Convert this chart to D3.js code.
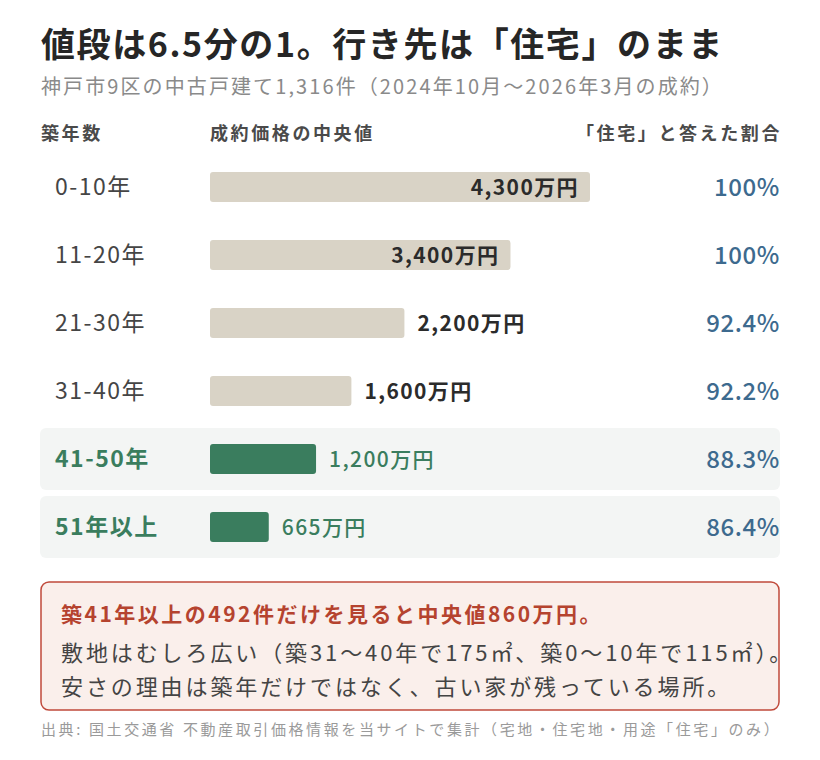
<!DOCTYPE html>
<html>
<head>
<meta charset="utf-8">
<script src="https://cdn.jsdelivr.net/npm/d3@7"></script>
<style>
  body { margin: 0; background: #fff; }
  svg text { font-family: "Noto Sans CJK JP", "Noto Sans", sans-serif; }
</style>
</head>
<body>
<svg id="chart"></svg>
<script>
// data
let ageLabels = ['0-10年', '11-20年', '21-30年', '31-40年', '41-50年', '51年以上']
let medianPrices = [4300, 3400, 2200, 1600, 1200, 665]   // 万円
let housingShare = [100, 100, 92.4, 92.2, 88.3, 86.4]    // %
let highlighted = [false, false, false, false, true, true]

let width = 820
let height = 760
let left = 40
let right = 780

let svg = d3.select('#chart')
  .attr('width', width)
  .attr('height', height)

let rows = ageLabels.map((label, i) => ({
  label: label,
  price: medianPrices[i],
  share: housingShare[i],
  hi: highlighted[i],
  i: i
}))

let xScale = d3.scaleLinear()
  .domain([0, d3.max(medianPrices)])
  .range([210, 590])

let yScale = d3.scaleBand()
  .domain(d3.range(rows.length))
  .range([153, 561])

let priceFmt = (v) => d3.format(',')(v) + '万円'
let shareFmt = (v) => (v === 100 ? '100' : d3.format('.1f')(v)) + '%'

// title block
svg.append('text')
  .attr('x', left + 1).attr('y', 57)
  .attr('font-size', 34).attr('font-weight', 700).attr('fill', '#262626')
  .attr('letter-spacing', 1.6)
  .text('値段は6.5分の1。行き先は「住宅」のまま')

svg.append('text')
  .attr('x', left + 1).attr('y', 94)
  .attr('font-size', 20).attr('fill', '#8a8a8a')
  .attr('letter-spacing', 2.1)
  .text('神戸市9区の中古戸建て1,316件（2024年10月～2026年3月の成約）')

// column headers
let headers = svg.append('g')
  .attr('font-size', 18).attr('font-weight', 700).attr('fill', '#4a4a4a')
  .attr('letter-spacing', 2.6)
headers.append('text').attr('x', left + 1).attr('y', 140).text('築年数')
headers.append('text').attr('x', 210).attr('y', 140).text('成約価格の中央値')
headers.append('text').attr('x', right + 2).attr('y', 140).attr('text-anchor', 'end').text('「住宅」と答えた割合')

// highlight backgrounds
svg.selectAll('rect.bg')
  .data(rows.filter(d => d.hi))
  .enter()
  .append('rect')
  .attr('class', 'bg')
  .attr('x', left)
  .attr('y', d => yScale(d.i) + 3)
  .attr('width', right - left)
  .attr('height', yScale.bandwidth() - 6)
  .attr('rx', 6)
  .attr('fill', '#f3f5f4')

let row = svg.selectAll('g.row')
  .data(rows)
  .enter()
  .append('g')
  .attr('class', 'row')
  .attr('transform', d => 'translate(0,' + (yScale(d.i) + yScale.bandwidth() / 2) + ')')

row.append('text')
  .attr('x', 55)
  .attr('dy', '0.36em')
  .attr('font-size', 23)
  .attr('letter-spacing', 1.5)
  .attr('font-weight', d => d.hi ? 700 : 400)
  .attr('fill', d => d.hi ? '#3a7d5e' : '#454545')
  .text(d => d.label)

row.append('rect')
  .attr('x', xScale(0))
  .attr('y', -15)
  .attr('width', d => xScale(d.price) - xScale(0))
  .attr('height', 30)
  .attr('rx', 3)
  .attr('fill', d => d.hi ? '#3a7d5e' : '#d9d3c6')

let inside = (d) => xScale(d.price) - xScale(0) > 250

row.append('text')
  .attr('x', d => inside(d) ? xScale(d.price) - 11 : xScale(d.price) + 13)
  .attr('dy', '0.36em')
  .attr('text-anchor', d => inside(d) ? 'end' : 'start')
  .attr('font-size', 21)
  .attr('letter-spacing', 1.4)
  .attr('font-weight', d => d.hi ? 500 : 700)
  .attr('fill', d => d.hi ? '#3a7d5e' : '#2b2b2b')
  .text(d => priceFmt(d.price))

row.append('text')
  .attr('x', right)
  .attr('dy', '0.36em')
  .attr('text-anchor', 'end')
  .attr('font-size', 24)
  .attr('letter-spacing', 0.6)
  .attr('font-weight', 500)
  .attr('fill', '#3d6a8e')
  .text(d => shareFmt(d.share))

// callout box
svg.append('rect')
  .attr('x', left + 1).attr('y', 582)
  .attr('width', right - left - 2).attr('height', 128)
  .attr('rx', 8)
  .attr('fill', '#faefeb')
  .attr('stroke', '#c04a3b')
  .attr('stroke-width', 1.5)

svg.append('text')
  .attr('x', 61).attr('y', 622)
  .attr('font-size', 21).attr('font-weight', 700).attr('fill', '#b5432f')
  .attr('letter-spacing', 2.5)
  .text('築41年以上の492件だけを見ると中央値860万円。')

let note = svg.append('g').attr('font-size', 22).attr('fill', '#444')
  .attr('letter-spacing', 2.9)
note.append('text').attr('x', 61).attr('y', 661)
  .text('敷地はむしろ広い（築31～40年で175㎡、築0～10年で115㎡）。')
note.append('text').attr('x', 61).attr('y', 695)
  .text('安さの理由は築年だけではなく、古い家が残っている場所。')

svg.append('text')
  .attr('x', left + 1).attr('y', 735)
  .attr('font-size', 15).attr('fill', '#9a9a9a')
  .attr('letter-spacing', 2.6)
  .text('出典: 国土交通省 不動産取引価格情報を当サイトで集計（宅地・住宅地・用途「住宅」のみ）')
</script>
</body>
</html>
